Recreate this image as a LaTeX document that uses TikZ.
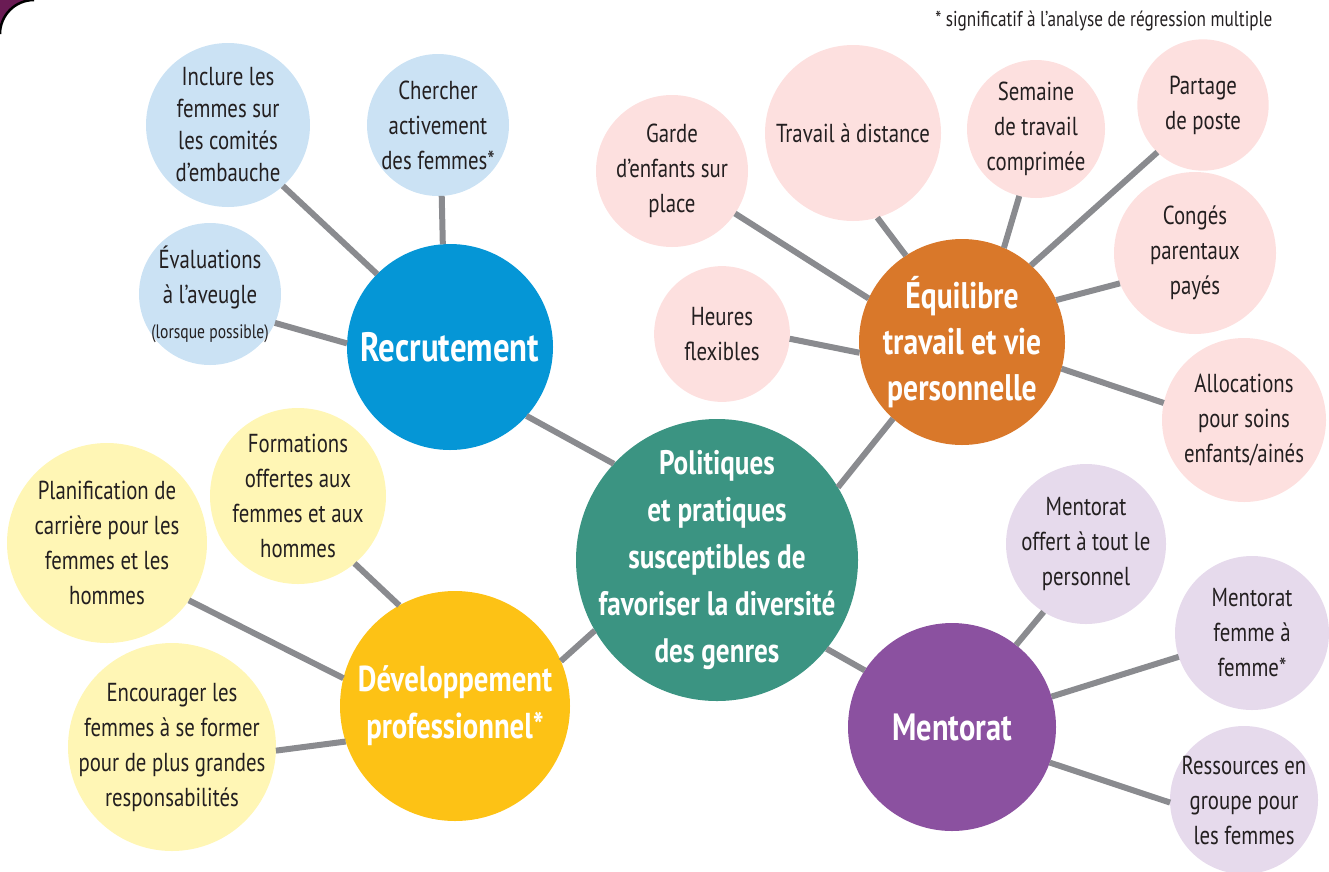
\documentclass[tikz,border=0pt]{standalone}
\usepackage{fontspec}
\setmainfont{PT Sans}[FakeStretch=0.8]
\usepackage{tikz}
\definecolor{mydark}{RGB}{35,31,32}
\definecolor{linkgray}{RGB}{138,139,143}
\definecolor{cornerpurple}{RGB}{106,27,84}
\definecolor{myteal}{RGB}{59,148,130}
\definecolor{myblue}{RGB}{5,150,214}
\definecolor{myorange}{RGB}{217,120,42}
\definecolor{myyellow}{RGB}{253,194,21}
\definecolor{mypurple}{RGB}{139,81,160}
\definecolor{lightblue}{RGB}{203,226,244}
\definecolor{lightpink}{RGB}{253,224,223}
\definecolor{lightyellow}{RGB}{255,246,181}
\definecolor{lightpurple}{RGB}{230,218,236}
\newcommand{\hubfont}{\bfseries\fontsize{34}{47}\selectfont}
\newcommand{\topicfont}{\bfseries\fontsize{37}{46}\selectfont}
\newcommand{\leaffont}{\fontsize{26}{35}\selectfont}
\newcommand{\notefont}{\fontsize{21.5}{24}\selectfont}
% negative inner sep: the circle keeps its minimum size around long text
\tikzset{
  hubnode/.style={circle, fill=myteal, text=white, align=center,
    inner sep=-80pt, outer sep=0pt, font=\hubfont},
  topic/.style={circle, text=white, align=center,
    inner sep=-80pt, outer sep=0pt, font=\topicfont},
  leaf/.style={circle, text=mydark, align=center,
    inner sep=-80pt, outer sep=0pt, font=\leaffont},
  link/.style={line width=6pt, color=linkgray}
}

\begin{document}
\begin{tikzpicture}[x=1pt, y=-1pt]
  \useasboundingbox (0,0) rectangle (1329,871);

  % Frame corner
  \fill[cornerpurple] (0,0) rectangle (36,36);
  \fill[white, rounded corners=34pt] (0,90) -- (0,0) -- (90,0) -- (90,90) -- cycle;
  \draw[black, line width=2.5pt, rounded corners=34pt] (0,34) -- (0,0) -- (34,0);

  % Centre
  \node[hubnode, minimum size=282] (hub) at (717,560)
    {Politiques\\ et pratiques\\ susceptibles de\\ favoriser la diversité\\ des genres};

  % Main themes
  \node[topic, fill=myblue, minimum size=206, font=\bfseries\fontsize{41}{46}\selectfont] (rec) at (450,347) {Recrutement};
  \node[topic, fill=myorange, minimum size=206] (equ) at (962,342) {Équilibre\\ travail et vie\\ personnelle};
  \node[topic, fill=myyellow, minimum size=230, font=\bfseries\fontsize{36}{47}\selectfont] (dev) at (455,706) {Développement\\ professionnel*};
  \node[topic, fill=mypurple, minimum size=208, font=\bfseries\fontsize{38}{46}\selectfont] (men) at (952,727) {Mentorat};

  % Recrutement
  \node[leaf, fill=lightblue, minimum size=164, font=\fontsize{26}{32}\selectfont] (inclure) at (228,125)
    {Inclure les\\ femmes sur\\ les comités\\ d’embauche};
  \node[leaf, fill=lightblue, minimum size=142] (chercher) at (438,125) {Chercher\\ activement\\ des femmes*};
  \node[leaf, fill=lightblue, minimum size=142] (evaluations) at (210,294)
    {Évaluations\\ à l’aveugle\\ {\fontsize{19.5}{22}\selectfont (lorsque possible)}};

  % Equilibre
  \node[leaf, fill=lightpink, minimum size=152] (garde) at (672,171) {Garde\\ d’enfants sur\\ place};
  \node[leaf, fill=lightpink, minimum size=176] (distance) at (853,133) {Travail à distance};
  \node[leaf, fill=lightpink, minimum size=138] (semaine) at (1036,129) {Semaine\\ de travail\\ comprimée};
  \node[leaf, fill=lightpink, minimum size=124] (partage) at (1203,105) {Partage\\ de poste};
  \node[leaf, fill=lightpink, minimum size=162] (conges) at (1195,253) {Congés\\ parentaux\\ payés};
  \node[leaf, fill=lightpink, minimum size=126] (heures) at (722,334) {Heures\\ flexibles};
  \node[leaf, fill=lightpink, minimum size=164] (allocations) at (1244,420) {Allocations\\ pour soins\\ enfants/ainés};

  % Developpement
  \node[leaf, fill=lightyellow, minimum size=176] (formations) at (298,496) {Formations\\ offertes aux\\ femmes et aux\\ hommes};
  \node[leaf, fill=lightyellow, minimum size=200] (planif) at (107,543) {Planification de\\ carrière pour les\\ femmes et les\\ hommes};
  \node[leaf, fill=lightyellow, minimum size=208] (encourager) at (172,747)
    {Encourager les\\ femmes à se former\\ pour de plus grandes\\ responsabilités};

  % Mentorat
  \node[leaf, fill=lightpurple, minimum size=160] (offert) at (1086,544) {Mentorat\\ offert à tout le\\ personnel};
  \node[leaf, fill=lightpurple, minimum size=154] (femme) at (1252,633) {Mentorat\\ femme à\\ femme*};
  \node[leaf, fill=lightpurple, minimum size=148] (ressources) at (1244,800) {Ressources en\\ groupe pour\\ les femmes};

  % Links
  \draw[link] (hub.137) -- (rec.-42);
  \draw[link] (hub.31) -- (equ.228);
  \draw[link] (hub.210) -- (dev.23);
  \draw[link] (hub.-39) -- (men.147);

  \draw[link] (inclure.-48) -- (rec.135);
  \draw[link] (chercher.-87) -- (rec.94);
  \draw[link] (evaluations.-24) -- (rec.178);

  \draw[link] (garde.-34) -- (equ.155);
  \draw[link] (distance.-74) -- (equ.123);
  \draw[link] (semaine.-104) -- (equ.66);
  \draw[link] (partage.-134) -- (equ.48);
  \draw[link] (conges.-158) -- (equ.24);
  \draw[link] (heures.-4) -- (equ.186);
  \draw[link] (allocations.168) -- (equ.-15);

  \draw[link] (formations.-50) -- (dev.119);
  \draw[link] (planif.-35) -- (dev.166);
  \draw[link] (encourager.-2) -- (dev.198);

  \draw[link] (offert.-122) -- (men.52);
  \draw[link] (femme.-162) -- (men.17);
  \draw[link] (ressources.-178) -- (men.-20);

  % Footnote
  \node[anchor=east, text=mydark, font=\notefont] (note) at (1276,21)
    {* significatif à l’analyse de régression multiple};
\end{tikzpicture}
\end{document}
